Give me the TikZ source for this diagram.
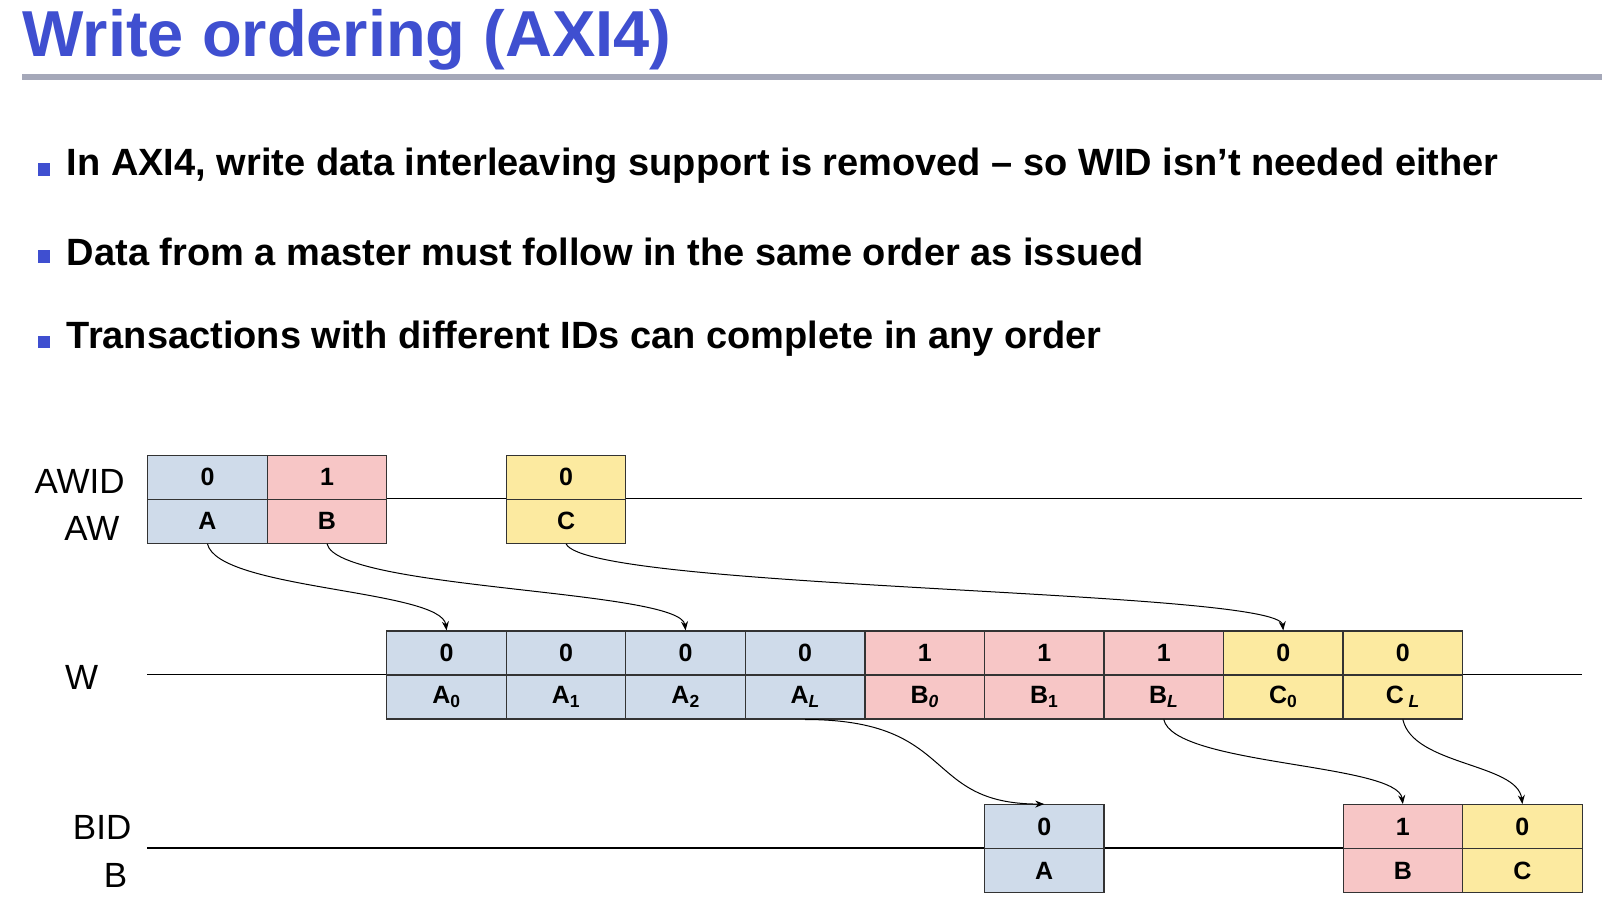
\documentclass[tikz,border=0pt]{standalone}
\usepackage{fontspec}
\setmainfont{Liberation Sans}
\usetikzlibrary{arrows.meta}
\definecolor{ttl}{RGB}{63,79,208}
\definecolor{cbl}{RGB}{207,219,234}
\definecolor{cpk}{RGB}{247,198,198}
\definecolor{cyl}{RGB}{252,234,160}
\definecolor{rul}{RGB}{165,168,185}
\begin{document}
\begin{tikzpicture}[x=1.0217pt,y=-1.0217pt,
  cell/.style={draw=black!80,line width=1.2pt,minimum width=119.5pt,minimum height=44pt,inner sep=0pt,anchor=north west,font=\fontsize{25}{27}\selectfont\bfseries},
  bl/.style={cell,fill=cbl},
  pk/.style={cell,fill=cpk},
  yl/.style={cell,fill=cyl},
  lab/.style={font=\fontsize{35}{37}\selectfont},
  arr/.style={-{Stealth[length=9pt,width=7pt]},line width=1pt},
  bul/.style={anchor=west,font=\fontsize{38}{40}\selectfont\bfseries}]
\useasboundingbox (0,0) rectangle (1568,887);
\fill[white] (0,0) rectangle (1568,887);
\node[anchor=base west,inner sep=0pt,text=ttl,font=\fontsize{65}{67}\selectfont\bfseries] (title) at (22,55) {Write ordering (AXI4)};
\fill[rul] (22,72) rectangle (1568,78);
\fill[ttl] (37,160) rectangle (49,172);
\fill[ttl] (37,245) rectangle (49,257);
\fill[ttl] (37,329) rectangle (49,341);
\node[bul] (b1) at (62,162) {In AXI4, write data interleaving support is removed -- so WID isn't needed either};
\node[bul] (b2) at (62,247) {Data from a master must follow in the same order as issued};
\node[bul] (b3) at (62,331) {Transactions with different IDs can complete in any order};
% lines
\draw[line width=1.2pt] (144,488) -- (1548,488);
\draw[line width=1.2pt] (144,660) -- (1548,660);
\draw[line width=1.2pt] (144,830) -- (1548,830);
% labels
\node[lab] (lawid) at (78,471) {AWID};
\node[lab] (law) at (90,517) {AW};
\node[lab] (lw) at (80,663) {W};
\node[lab] (lbid) at (100,810) {BID};
\node[lab] (lb) at (113,857) {B};
% AW
\node[bl] (aid) at (144,445) {0}; \node[bl] (a) at (144,488) {A};
\node[pk] (bid) at (261,445) {1}; \node[pk] (b) at (261,488) {B};
\node[yl] (cid) at (495,445) {0}; \node[yl] (c) at (495,488) {C};
% W
\def\sub#1{\textsubscript{\normalfont\bfseries #1}}
\node[bl] (w1i) at (378,617) {0}; \node[bl] (w1) at (378,660) {A\sub{0}};
\node[bl] (w2i) at (495,617) {0}; \node[bl] (w2) at (495,660) {A\sub{1}};
\node[bl] (w3i) at (612,617) {0}; \node[bl] (w3) at (612,660) {A\sub{2}};
\node[bl] (w4i) at (729,617) {0}; \node[bl] (w4) at (729,660) {A\sub{\itshape L}};
\node[pk] (w5i) at (846,617) {1}; \node[pk] (w5) at (846,660) {B\sub{\itshape 0}};
\node[pk] (w6i) at (963,617) {1}; \node[pk] (w6) at (963,660) {B\sub{1}};
\node[pk] (w7i) at (1080,617) {1}; \node[pk] (w7) at (1080,660) {B\sub{\itshape L}};
\node[yl] (w8i) at (1197,617) {0}; \node[yl] (w8) at (1197,660) {C\sub{0}};
\node[yl] (w9i) at (1314,617) {0}; \node[yl] (w9) at (1314,660) {C\sub{~\itshape L}};
% B
\node[bl] (r1i) at (963,787) {0}; \node[bl] (r1) at (963,830) {A};
\node[pk] (r2i) at (1314,787) {1}; \node[pk] (r2) at (1314,830) {B};
\node[yl] (r3i) at (1431,787) {0}; \node[yl] (r3) at (1431,830) {C};
% arrows
\draw[arr] (a.south) .. controls ++(10,45) and ++(-5,-40) .. (w1i.north);
\draw[arr] (b.south) .. controls ++(10,45) and ++(-5,-40) .. (w3i.north);
\draw[arr] (c.south) .. controls ++(20,45) and ++(-5,-40) .. (w8i.north);
\draw[arr] (w4.south) .. controls ++(150,0) and ++(-120,0) .. (r1i.north);
\draw[arr] (w7.south) .. controls ++(10,45) and ++(-5,-40) .. (r2i.north);
\draw[arr] (w9.south) .. controls ++(10,45) and ++(-5,-40) .. (r3i.north);
\end{tikzpicture}
\end{document}
